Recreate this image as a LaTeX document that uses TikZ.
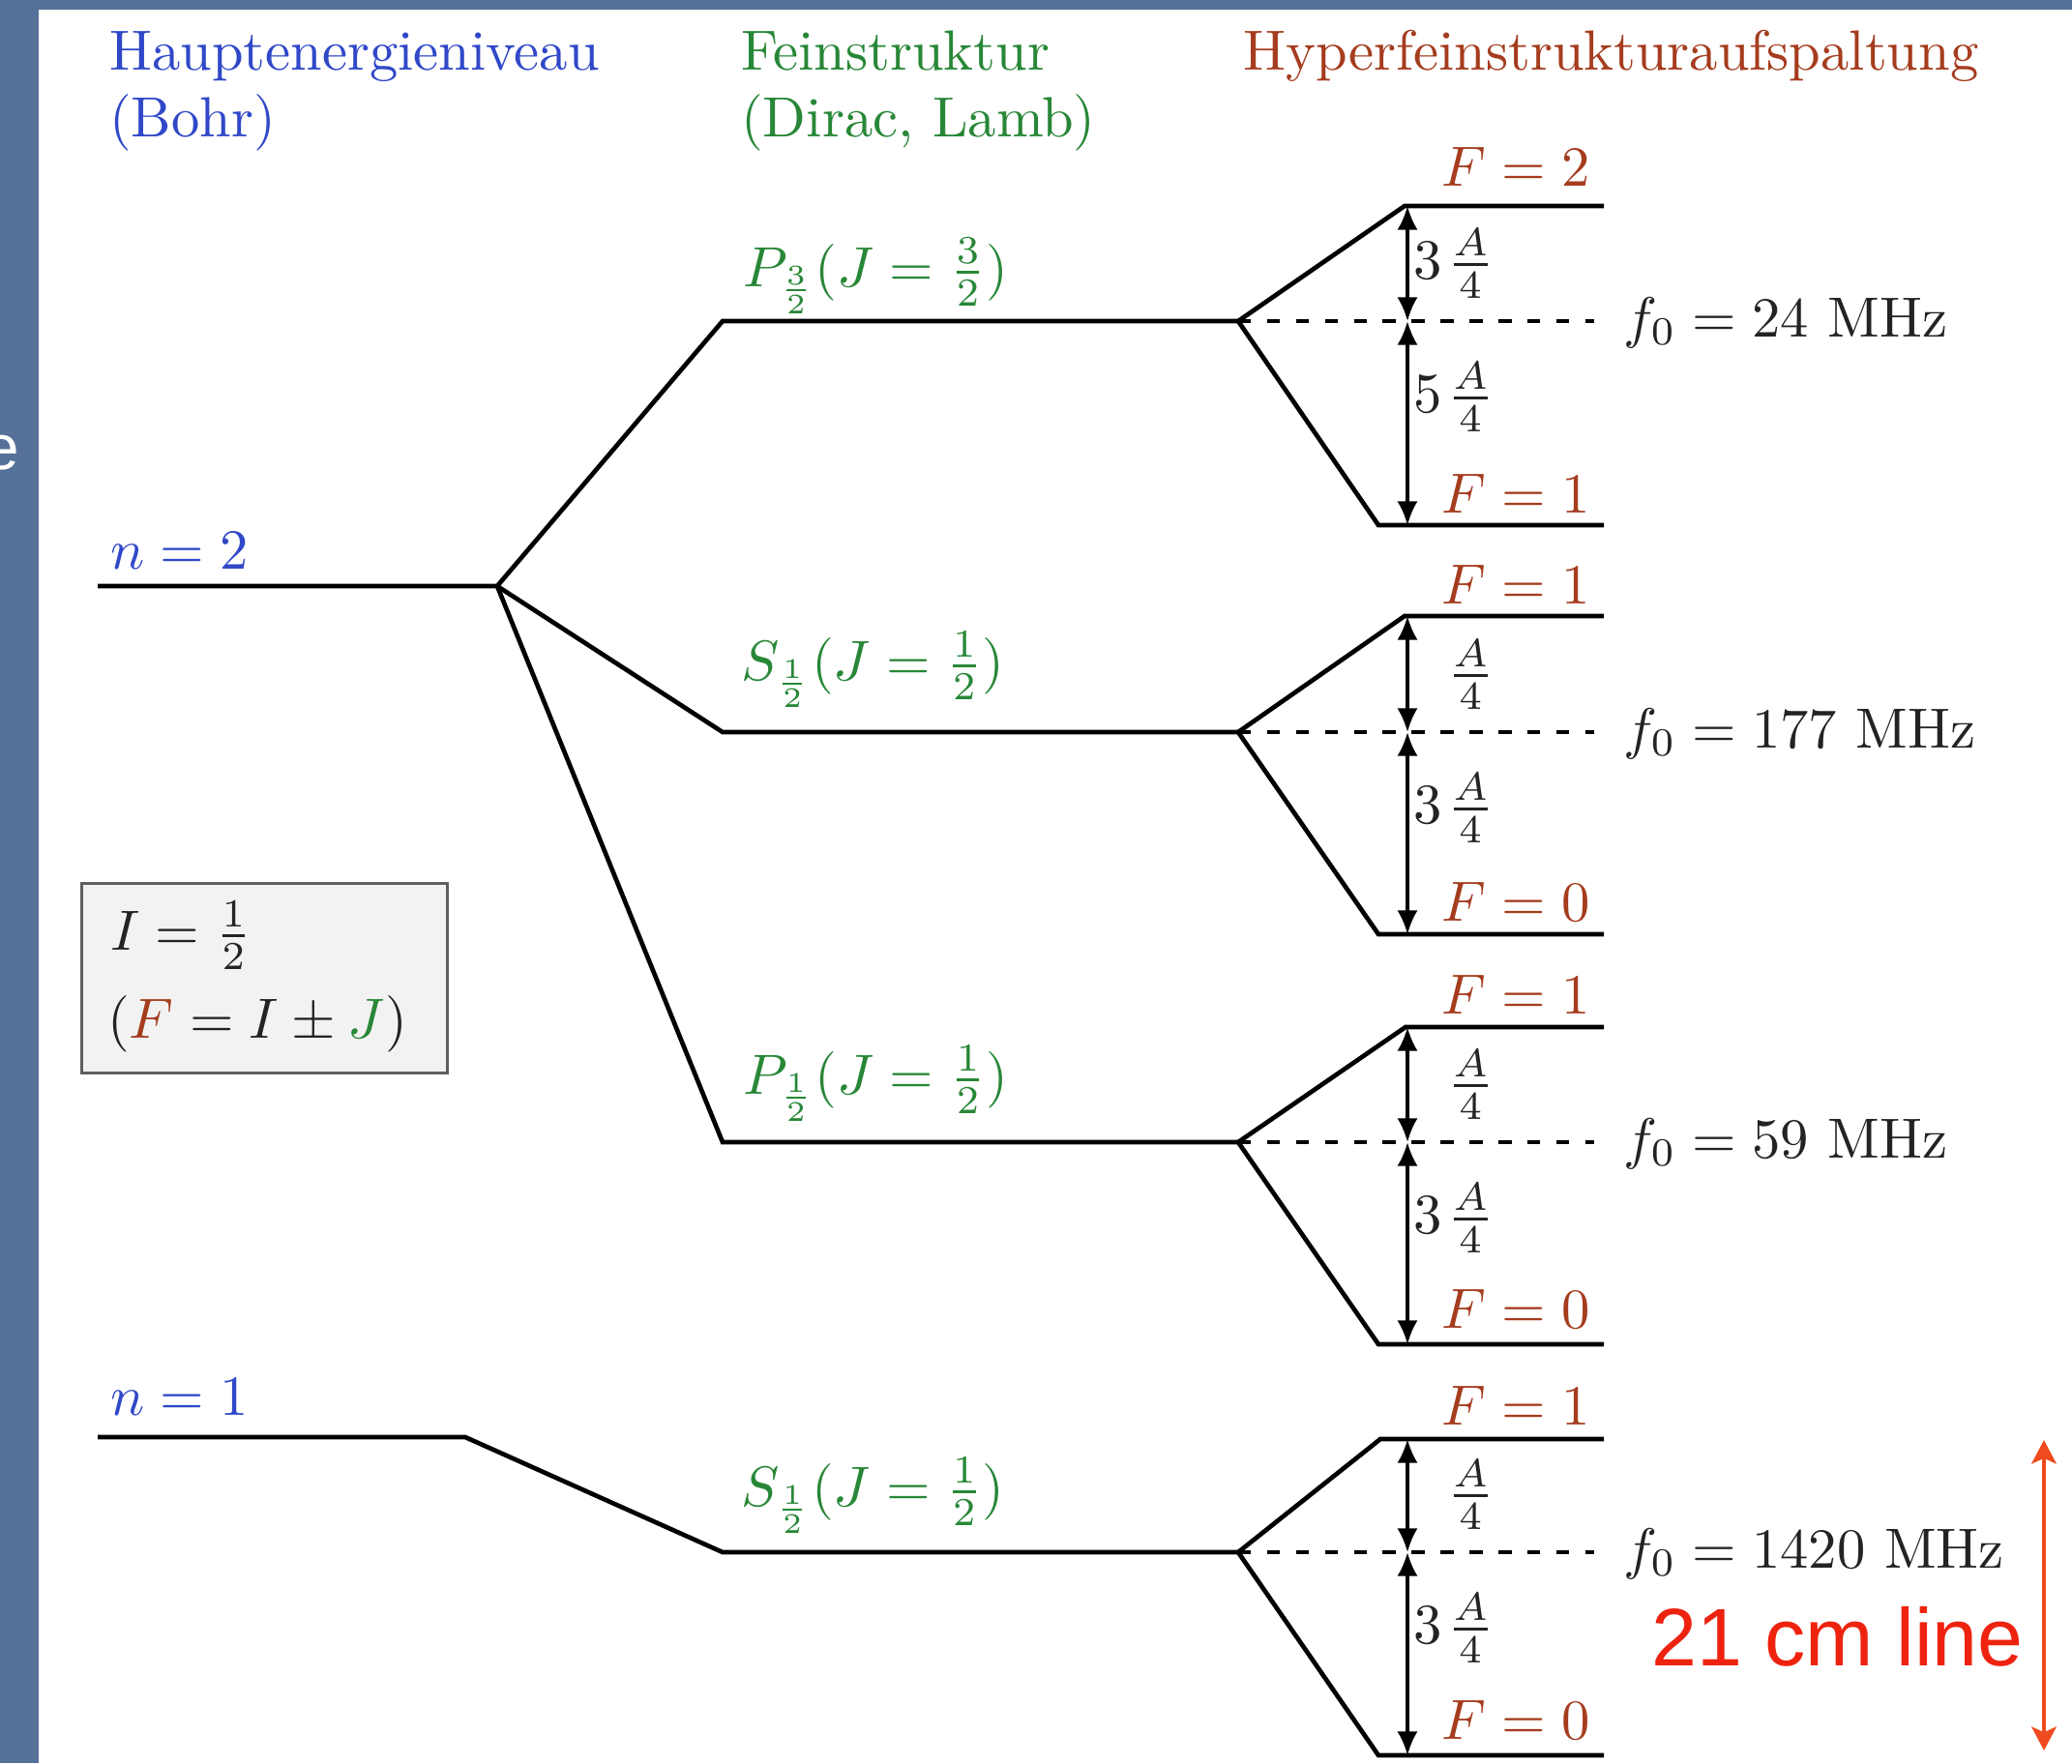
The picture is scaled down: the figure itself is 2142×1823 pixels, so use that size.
\documentclass[tikz,border=0pt]{standalone}
\usepackage{fontspec}
\newfontfamily\arialfont{Liberation Sans}
\usetikzlibrary{arrows.meta}
\definecolor{frameblue}{RGB}{85,113,153}
\definecolor{bohrblue}{RGB}{48,72,200}
\definecolor{finegreen}{RGB}{40,135,55}
\definecolor{hfsred}{RGB}{165,60,30}
\definecolor{boxfill}{RGB}{242,242,242}
\definecolor{boxline}{RGB}{95,95,95}
\definecolor{annotred}{RGB}{238,35,15}
\definecolor{annotarrow}{RGB}{240,75,30}
\definecolor{txtgray}{RGB}{35,35,35}
\tikzset{
  level/.style={line width=0.8pt, line join=miter},
  splitarrow/.style={line width=0.55pt, {Latex[length=4.2pt,width=3.6pt]}-{Latex[length=4.2pt,width=3.6pt]}},
  zeroline/.style={line width=0.7pt, dash pattern=on 2.3pt off 2.8pt},
  lbl/.style={inner sep=0pt, anchor=base west},
  rlbl/.style={inner sep=0pt, anchor=base east},
}
\newcommand{\hfsq}[1]{$#1\mkern1.5mu\frac{A}{4}$}
\begin{document}
\begin{tikzpicture}[x=0.006cm, y=-0.006cm]
\useasboundingbox (0,0) rectangle (2142,1823);
% frame
\fill[frameblue] (0,0) rectangle (2142,9.5);
\fill[frameblue] (0,0) rectangle (40,1823);
\node[lbl, white, font=\arialfont\fontsize{11.2}{13}\selectfont] (edgee) at (-18,485) {e};

% headers
\node[lbl, bohrblue] (hdrA1) at (112,72) {Hauptenergieniveau};
\node[lbl, bohrblue] (hdrA2) at (112,141) {(Bohr)};
\node[lbl, finegreen] (hdrB1) at (765,72) {Feinstruktur};
\node[lbl, finegreen] (hdrB2) at (765,141) {(Dirac, Lamb)};
\node[lbl, hfsred] (hdrC) at (1284,72) {Hyperfeinstrukturaufspaltung};

% coordinates
\coordinate (n2a) at (101,606);  \coordinate (n2b) at (514,606);
\coordinate (n1a) at (101,1486); \coordinate (n1b) at (481,1486);
\coordinate (P3a) at (747,332);  \coordinate (S2a) at (747,757);
\coordinate (P1a) at (747,1181); \coordinate (S1a) at (747,1605);
\coordinate (g1f) at (1280,332);  \coordinate (g2f) at (1280,757);
\coordinate (g3f) at (1280,1181); \coordinate (g4f) at (1280,1605);

% Bohr and fine structure
\draw[level] (n2a) -- (n2b) -- (P3a) -- (g1f);
\draw[level] (n2b) -- (S2a) -- (g2f);
\draw[level] (n2b) -- (P1a) -- (g3f);
\draw[level] (n1a) -- (n1b) -- (S1a) -- (g4f);

\node[lbl, bohrblue] (lbn2) at (113,588) {$n=2$};
\node[lbl, bohrblue] (lbn1) at (113,1463) {$n=1$};
\node[lbl, finegreen] (lbP3) at (767,296) {$P_{\frac{3}{2}}(J=\frac{3}{2})$};
\node[lbl, finegreen] (lbS2) at (765,703) {$S_{\frac{1}{2}}(J=\frac{1}{2})$};
\node[lbl, finegreen] (lbP1) at (767,1131) {$P_{\frac{1}{2}}(J=\frac{1}{2})$};
\node[lbl, finegreen] (lbS1) at (765,1557) {$S_{\frac{1}{2}}(J=\frac{1}{2})$};

% group 1
\coordinate (g1ua) at (1452,213); \coordinate (g1ub) at (1658,213);
\coordinate (g1la) at (1425,543); \coordinate (g1lb) at (1658,543);
\coordinate (g1de) at (1648,332);
\coordinate (g1au) at (1455,213); \coordinate (g1am) at (1455,332); \coordinate (g1al) at (1455,543);
\draw[level] (g1lb) -- (g1la) -- (g1f) -- (g1ua) -- (g1ub);
\draw[zeroline] (g1f) -- (g1de);
\draw[splitarrow] (g1au) -- (g1am);
\draw[splitarrow] (g1am) -- (g1al);
\node[rlbl, txtgray] (g1s1) at (1546,288) {\hfsq{3}};
\node[rlbl, txtgray] (g1s2) at (1546,426) {\hfsq{5}};
\node[rlbl, hfsred] (g1Fu) at (1645,192) {$F=2$};
\node[rlbl, hfsred] (g1Fl) at (1645,530) {$F=1$};
\node[lbl, txtgray] (g1f0) at (1677,348) {$f_0=24$ MHz};

% group 2
\coordinate (g2ua) at (1452,637); \coordinate (g2ub) at (1658,637);
\coordinate (g2la) at (1425,966); \coordinate (g2lb) at (1658,966);
\coordinate (g2de) at (1648,757);
\coordinate (g2au) at (1455,637); \coordinate (g2am) at (1455,757); \coordinate (g2al) at (1455,966);
\draw[level] (g2lb) -- (g2la) -- (g2f) -- (g2ua) -- (g2ub);
\draw[zeroline] (g2f) -- (g2de);
\draw[splitarrow] (g2au) -- (g2am);
\draw[splitarrow] (g2am) -- (g2al);
\node[rlbl, txtgray] (g2s1) at (1546,713) {$\frac{A}{4}$};
\node[rlbl, txtgray] (g2s2) at (1546,851) {\hfsq{3}};
\node[rlbl, hfsred] (g2Fu) at (1645,624) {$F=1$};
\node[rlbl, hfsred] (g2Fl) at (1645,952) {$F=0$};
\node[lbl, txtgray] (g2f0) at (1677,773) {$f_0=177$ MHz};

% group 3
\coordinate (g3ua) at (1453,1062); \coordinate (g3ub) at (1658,1062);
\coordinate (g3la) at (1425,1390); \coordinate (g3lb) at (1658,1390);
\coordinate (g3de) at (1648,1181);
\coordinate (g3au) at (1455,1062); \coordinate (g3am) at (1455,1181); \coordinate (g3al) at (1455,1390);
\draw[level] (g3lb) -- (g3la) -- (g3f) -- (g3ua) -- (g3ub);
\draw[zeroline] (g3f) -- (g3de);
\draw[splitarrow] (g3au) -- (g3am);
\draw[splitarrow] (g3am) -- (g3al);
\node[rlbl, txtgray] (g3s1) at (1546,1137) {$\frac{A}{4}$};
\node[rlbl, txtgray] (g3s2) at (1546,1275) {\hfsq{3}};
\node[rlbl, hfsred] (g3Fu) at (1645,1048) {$F=1$};
\node[rlbl, hfsred] (g3Fl) at (1645,1373) {$F=0$};
\node[lbl, txtgray] (g3f0) at (1677,1197) {$f_0=59$ MHz};

% group 4
\coordinate (g4ua) at (1427,1488); \coordinate (g4ub) at (1658,1488);
\coordinate (g4la) at (1425,1815); \coordinate (g4lb) at (1658,1815);
\coordinate (g4de) at (1648,1605);
\coordinate (g4au) at (1455,1488); \coordinate (g4am) at (1455,1605); \coordinate (g4al) at (1455,1815);
\draw[level] (g4lb) -- (g4la) -- (g4f) -- (g4ua) -- (g4ub);
\draw[zeroline] (g4f) -- (g4de);
\draw[splitarrow] (g4au) -- (g4am);
\draw[splitarrow] (g4am) -- (g4al);
\node[rlbl, txtgray] (g4s1) at (1546,1561) {$\frac{A}{4}$};
\node[rlbl, txtgray] (g4s2) at (1546,1699) {\hfsq{3}};
\node[rlbl, hfsred] (g4Fu) at (1645,1473) {$F=1$};
\node[rlbl, hfsred] (g4Fl) at (1645,1798) {$F=0$};
\node[lbl, txtgray] (g4f0) at (1677,1621) {$f_0=1420$ MHz};

% info box
\node[draw=boxline, fill=boxfill, line width=0.5pt, inner sep=0pt,
      minimum width=64.4pt, minimum height=33.3pt] (infobox) at (273.5,1011.5) {};
\node[lbl, txtgray] (boxI) at (113,982) {$I=\frac{1}{2}$};
\node[lbl, txtgray] (boxF) at (110,1073) {$(\textcolor{hfsred}{F}=I\pm\textcolor{finegreen}{J})$};

% 21 cm annotation
\coordinate (rtop) at (2113,1489); \coordinate (rbot) at (2113,1810);
\draw[annotarrow, line width=0.55pt, {Stealth[length=4.2pt,width=4.4pt,inset=1pt]}-{Stealth[length=4.2pt,width=4.4pt,inset=1pt]}] (rtop) -- (rbot);
\node[lbl, annotred, font=\arialfont\fontsize{14.4}{17}\selectfont] (lbl21) at (1706,1722) {21 cm line};
\end{tikzpicture}
\end{document}
